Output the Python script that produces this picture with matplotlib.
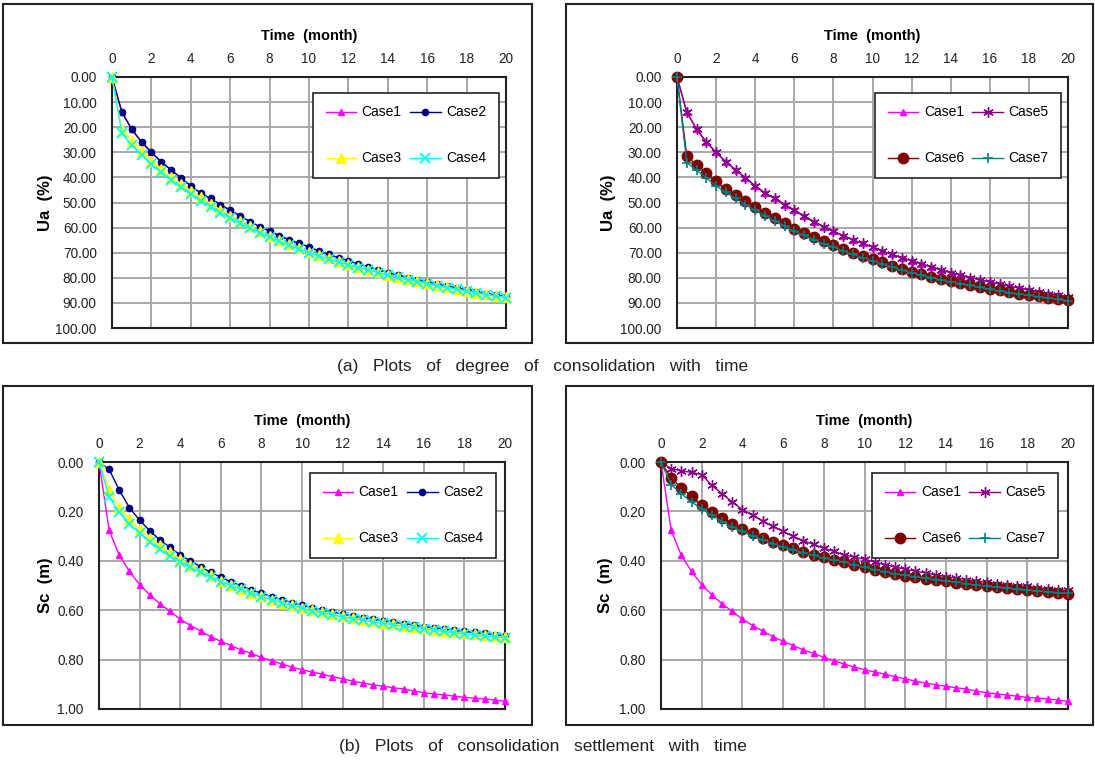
import matplotlib.pyplot as plt
from matplotlib.patches import Rectangle
from matplotlib.ticker import FormatStrFormatter

plt.rcParams['font.family'] = ['Liberation Sans', 'DejaVu Sans']

# time axis (month), one point every half month
time = [0.0, 0.5, 1.0, 1.5, 2.0, 2.5, 3.0, 3.5, 4.0, 4.5, 5.0, 5.5, 6.0, 6.5, 7.0,
        7.5, 8.0, 8.5, 9.0, 9.5, 10.0, 10.5, 11.0, 11.5, 12.0, 12.5, 13.0, 13.5,
        14.0, 14.5, 15.0, 15.5, 16.0, 16.5, 17.0, 17.5, 18.0, 18.5, 19.0, 19.5, 20.0]

# degree of consolidation Ua (%)
ua_case1 = [0, 14.0, 20.8, 25.9, 30.0, 33.8, 37.0, 40.2, 43.4, 46.2, 48.4, 50.8, 53.1,
            55.3, 57.6, 59.6, 61.4, 63.2, 64.9, 66.3, 67.7, 69.3, 70.7, 72.0, 73.2, 74.5,
            75.6, 76.8, 77.9, 78.9, 79.9, 80.8, 81.6, 82.5, 83.3, 84.1, 84.8, 85.6, 86.3,
            86.9, 87.5]
ua_case2 = ua_case1   # overlaps case 1 exactly
ua_case5 = ua_case1   # overlaps case 1 exactly
ua_case3 = [0, 21.1, 25.3, 29.5, 33.3, 36.7, 39.8, 42.6, 45.3, 47.9, 50.5, 52.9, 55.2,
            57.4, 59.5, 61.5, 63.3, 65.1, 66.7, 68.2, 69.6, 71.0, 72.2, 73.4, 74.6, 75.7,
            76.7, 77.8, 78.7, 79.7, 80.6, 81.4, 82.2, 83.0, 83.8, 84.5, 85.2, 85.9, 86.6,
            87.2, 87.8]
ua_case4 = [0, 22.4, 27.2, 31.1, 34.8, 38.0, 41.1, 44.0, 46.7, 49.3, 51.7, 54.0, 56.2,
            58.3, 60.3, 62.1, 63.8, 65.5, 67.1, 68.6, 70.0, 71.3, 72.5, 73.7, 74.8, 75.9,
            76.9, 77.9, 78.9, 79.8, 80.7, 81.5, 82.3, 83.1, 83.9, 84.6, 85.3, 86.0, 86.7,
            87.3, 87.9]
ua_case6 = [0, 31.5, 35.1, 38.4, 41.6, 44.5, 47.1, 49.5, 51.7, 54.1, 56.3, 58.3, 60.4,
            62.1, 63.7, 65.3, 67.1, 68.7, 70.0, 71.3, 72.5, 73.9, 75.2, 76.4, 77.6, 78.6,
            79.6, 80.5, 81.3, 82.0, 82.7, 83.6, 84.4, 85.0, 85.7, 86.3, 86.8, 87.4, 87.9,
            88.4, 88.9]
ua_case7 = [0, 34.1, 37.1, 40.1, 43.3, 46.0, 48.4, 50.8, 53.1, 55.3, 57.3, 59.3, 61.5,
            63.1, 64.8, 66.4, 67.7, 69.3, 70.7, 72.0, 73.2, 74.5, 75.7, 76.9, 78.0, 79.0,
            79.9, 80.8, 81.6, 82.3, 83.0, 83.8, 84.6, 85.2, 85.9, 86.5, 87.0, 87.6, 88.1,
            88.6, 89.1]

# consolidation settlement Sc (m)
sc_case1 = [0, 0.277, 0.378, 0.443, 0.496, 0.538, 0.574, 0.605, 0.636, 0.662, 0.684,
            0.707, 0.726, 0.743, 0.761, 0.775, 0.791, 0.804, 0.818, 0.830, 0.841, 0.850,
            0.859, 0.869, 0.878, 0.887, 0.895, 0.902, 0.908, 0.914, 0.919, 0.927, 0.934,
            0.939, 0.943, 0.948, 0.953, 0.956, 0.959, 0.964, 0.969]
sc_case2 = [0, 0.030, 0.114, 0.185, 0.236, 0.278, 0.316, 0.345, 0.377, 0.400, 0.424,
            0.447, 0.466, 0.485, 0.501, 0.518, 0.531, 0.545, 0.557, 0.569, 0.580, 0.590,
            0.599, 0.607, 0.615, 0.623, 0.630, 0.636, 0.642, 0.648, 0.654, 0.660, 0.666,
            0.671, 0.676, 0.681, 0.686, 0.690, 0.694, 0.699, 0.703]
sc_case3 = [0, 0.114, 0.185, 0.232, 0.273, 0.308, 0.338, 0.366, 0.392, 0.416, 0.439,
            0.459, 0.480, 0.497, 0.514, 0.530, 0.543, 0.557, 0.569, 0.580, 0.590, 0.600,
            0.609, 0.617, 0.625, 0.632, 0.639, 0.645, 0.651, 0.657, 0.663, 0.668, 0.674,
            0.679, 0.684, 0.689, 0.694, 0.698, 0.702, 0.706, 0.710]
sc_case4 = [0, 0.142, 0.203, 0.250, 0.289, 0.323, 0.354, 0.382, 0.405, 0.427, 0.447,
            0.466, 0.484, 0.501, 0.516, 0.531, 0.545, 0.558, 0.570, 0.581, 0.592, 0.602,
            0.611, 0.619, 0.627, 0.634, 0.641, 0.647, 0.653, 0.659, 0.665, 0.670, 0.676,
            0.681, 0.686, 0.691, 0.696, 0.700, 0.704, 0.708, 0.712]
sc_case5 = [0, 0.027, 0.036, 0.042, 0.051, 0.095, 0.128, 0.162, 0.193, 0.216, 0.239,
            0.261, 0.281, 0.301, 0.319, 0.334, 0.349, 0.362, 0.376, 0.385, 0.394, 0.405,
            0.415, 0.425, 0.434, 0.442, 0.449, 0.457, 0.464, 0.470, 0.476, 0.482, 0.487,
            0.492, 0.497, 0.501, 0.504, 0.509, 0.513, 0.517, 0.520]
sc_case6 = [0, 0.065, 0.105, 0.138, 0.173, 0.203, 0.227, 0.249, 0.270, 0.289, 0.307,
            0.322, 0.338, 0.350, 0.364, 0.376, 0.386, 0.395, 0.403, 0.416, 0.427, 0.437,
            0.445, 0.453, 0.461, 0.467, 0.472, 0.477, 0.482, 0.488, 0.493, 0.499, 0.504,
            0.508, 0.512, 0.516, 0.520, 0.524, 0.527, 0.531, 0.534]
sc_case7 = [0, 0.092, 0.128, 0.162, 0.189, 0.216, 0.241, 0.262, 0.281, 0.299, 0.315,
            0.330, 0.345, 0.355, 0.368, 0.378, 0.389, 0.397, 0.405, 0.416, 0.426, 0.436,
            0.444, 0.452, 0.459, 0.465, 0.471, 0.476, 0.481, 0.487, 0.492, 0.498, 0.503,
            0.507, 0.511, 0.515, 0.519, 0.523, 0.526, 0.529, 0.532]

styles = {
    'Case1': dict(color='#FF00FF', marker='^', ms=4.5),
    'Case2': dict(color='#000080', marker='o', ms=4.5),
    'Case3': dict(color='#FFFF00', marker='^', ms=7.5),
    'Case4': dict(color='#00FFFF', marker='x', ms=6.5, mew=1.3),
    'Case5': dict(color='#880088', marker=(6, 2, 0), ms=7.5, mew=1.0),
    'Case6': dict(color='#800000', marker='o', ms=7.5),
    'Case7': dict(color='#008080', marker='+', ms=7.5, mew=1.2),
}

W, H = 1095, 761
fig = plt.figure(figsize=(W / 100, H / 100), dpi=100)


def px_axes(x0, y0, x1, y1):
    return fig.add_axes([x0 / W, 1 - y1 / H, (x1 - x0) / W, (y1 - y0) / H])


def panel(box, series, ymax, ystep, ylabel, ylab_x, title_y, leg_corner):
    ax = px_axes(*box)
    for name, vals in series:
        ax.plot(time, vals, lw=1.0, label=name, clip_on=False, zorder=3, **styles[name])
    ax.set_xlim(0, 20)
    ax.set_ylim(ymax, 0)
    ax.set_xticks(range(0, 21, 2))
    yt = [i * ystep for i in range(int(round(ymax / ystep)) + 1)]
    ax.set_yticks(yt)
    ax.yaxis.set_major_formatter(FormatStrFormatter('%.2f'))
    ax.xaxis.tick_top()
    ax.tick_params(length=0, labelsize=9.8, colors='#222222')
    ax.tick_params(axis='x', pad=8)
    ax.tick_params(axis='y', pad=11)
    ax.grid(True, color='#a8a8a8', lw=1.4)
    ax.set_axisbelow(True)
    for s in ax.spines.values():
        s.set_linewidth(1.5)
        s.set_color('#222222')
    ax.set_xlabel('Time  (month)', fontsize=10.5, fontweight='bold')
    ax.xaxis.set_label_position('top')
    ax.xaxis.set_label_coords(0.5, title_y)
    ax.set_ylabel(ylabel, fontsize=12, fontweight='bold')
    ax.yaxis.set_label_coords(ylab_x, 0.5)
    h, l = ax.get_legend_handles_labels()
    order = [0, 2, 1, 3]
    leg = ax.legend([h[i] for i in order], [l[i] for i in order], ncol=2,
                    loc='upper right', bbox_to_anchor=(leg_corner[0] / W, 1 - leg_corner[1] / H),
                    bbox_transform=fig.transFigure, borderaxespad=0, fontsize=10,
                    frameon=True, fancybox=False, edgecolor='#222222', framealpha=1,
                    handlelength=2.2, handletextpad=0.4, columnspacing=0.6,
                    labelspacing=2.3, borderpad=0.9)
    leg.get_frame().set_linewidth(1.2)
    return ax


panel((112, 77, 506, 328),
      [('Case1', ua_case1), ('Case2', ua_case2), ('Case3', ua_case3), ('Case4', ua_case4)],
      100, 10, 'Ua  (%)', -0.149, 1.146, (499, 93))
panel((677, 77, 1068, 328),
      [('Case1', ua_case1), ('Case5', ua_case5), ('Case6', ua_case6), ('Case7', ua_case7)],
      100, 10, 'Ua  (%)', -0.155, 1.146, (1061, 93))
panel((99, 462, 505, 709),
      [('Case1', sc_case1), ('Case2', sc_case2), ('Case3', sc_case3), ('Case4', sc_case4)],
      1.0, 0.2, 'Sc  (m)', -0.113, 1.15, (496, 473))
panel((661, 462, 1068, 709),
      [('Case1', sc_case1), ('Case5', sc_case5), ('Case6', sc_case6), ('Case7', sc_case7)],
      1.0, 0.2, 'Sc  (m)', -0.118, 1.15, (1058, 473))

# outer frames around each chart
for x0, y0, x1, y1 in [(3, 4, 532, 343), (566, 4, 1093, 343),
                       (3, 386, 532, 725), (566, 386, 1093, 725)]:
    fig.add_artist(Rectangle((x0 / W, 1 - y1 / H), (x1 - x0) / W, (y1 - y0) / H,
                             transform=fig.transFigure, fill=False, lw=1.5, ec='#222222'))

fig.text(543 / W, 1 - 366 / H, '(a)   Plots   of   degree   of   consolidation   with   time',
         ha='center', va='center', fontsize=12.5, color='#222222')
fig.text(543 / W, 1 - 746 / H, '(b)   Plots   of   consolidation   settlement   with   time',
         ha='center', va='center', fontsize=12.5, color='#222222')

fig.savefig('out.png', dpi=100)
